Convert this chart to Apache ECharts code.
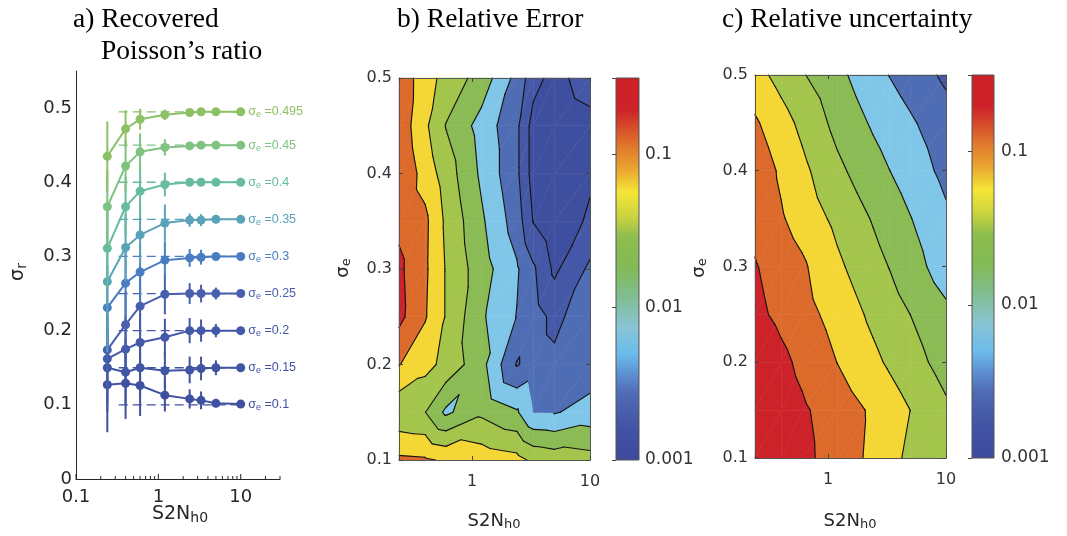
<!DOCTYPE html>
<html><head><meta charset="utf-8">
<script src="https://cdn.jsdelivr.net/npm/echarts@6/dist/echarts.min.js"></script>
<style>html,body{margin:0;padding:0;background:#fff}#c{width:1067px;height:536px}</style>
</head><body><div id="c"></div>
<script>
// ---------------- data ----------------
const s2n = [0.24, 0.4, 0.6, 1.2, 2.4, 3.3, 5, 10];
const sigmaE = [0.1, 0.15, 0.2, 0.25, 0.3, 0.35, 0.4, 0.45, 0.495];
const sigmaELabels = ['0.1', '0.15', '0.2', '0.25', '0.3', '0.35', '0.4', '0.45', '0.495'];
const recovered = [
  [0.127, 0.129, 0.126, 0.113, 0.108, 0.106, 0.102, 0.101],
  [0.150, 0.144, 0.150, 0.146, 0.147, 0.149, 0.150, 0.150],
  [0.162, 0.175, 0.184, 0.191, 0.200, 0.200, 0.200, 0.200],
  [0.174, 0.208, 0.233, 0.249, 0.250, 0.250, 0.250, 0.250],
  [0.231, 0.264, 0.279, 0.295, 0.298, 0.299, 0.300, 0.300],
  [0.266, 0.312, 0.329, 0.345, 0.349, 0.349, 0.350, 0.350],
  [0.311, 0.367, 0.388, 0.397, 0.400, 0.400, 0.400, 0.400],
  [0.367, 0.422, 0.441, 0.447, 0.449, 0.450, 0.450, 0.450],
  [0.435, 0.472, 0.485, 0.491, 0.494, 0.495, 0.495, 0.495]
];
const recoveredErr = [
  [0.064, 0.048, 0.041, 0.022, 0.013, 0.012, 0.005, 0.002],
  [0.060, 0.045, 0.040, 0.025, 0.018, 0.016, 0.010, 0.002],
  [0.060, 0.045, 0.040, 0.025, 0.017, 0.015, 0.009, 0.002],
  [0.058, 0.045, 0.040, 0.027, 0.014, 0.012, 0.008, 0.002],
  [0.057, 0.045, 0.040, 0.025, 0.012, 0.010, 0.003, 0.002],
  [0.095, 0.045, 0.040, 0.025, 0.009, 0.008, 0.003, 0.002],
  [0.055, 0.040, 0.035, 0.016, 0.004, 0.003, 0.002, 0.001],
  [0.050, 0.035, 0.025, 0.011, 0.003, 0.002, 0.001, 0.001],
  [0.047, 0.025, 0.014, 0.007, 0.002, 0.002, 0.001, 0.001]
];
const seriesColors = ['#3f50a0', '#4154a4', '#4358a8', '#485fae', '#4a7cc2', '#59a2b8', '#66bc9c', '#7fc282', '#8dc166'];
const refLineStart = 0.33;
const xMajorTicksA = [0.1, 1, 10];
const xMinorTicksA = [0.2, 0.3, 0.4, 0.5, 0.6, 0.7, 0.8, 0.9, 2, 3, 4, 5, 6, 7, 8, 9, 20, 30];

// contour grids: rows = sigma_e (bottom to top), columns = s2n; values are log10
const contourSigmaE = [0.1, 0.15, 0.2, 0.25, 0.3, 0.35, 0.4, 0.45, 0.5];
const relErrorLog10 = [
  [-1.20, -1.22, -1.28, -1.35, -1.42, -1.55, -1.60, -1.65],
  [-1.70, -1.745, -2.05, -1.80, -1.97, -2.25, -2.27, -2.15],
  [-1.24, -1.418, -1.573, -1.915, -2.52, -2.40, -2.45, -2.40],
  [-0.93, -1.229, -1.515, -1.964, -2.26, -2.40, -2.56, -2.35],
  [-0.95, -1.208, -1.515, -1.89, -2.22, -2.46, -2.80, -2.45],
  [-1.05, -1.195, -1.544, -1.96, -2.37, -2.76, -2.95, -2.70],
  [-1.03, -1.35, -1.62, -2.044, -2.45, -2.85, -3.00, -2.80],
  [-1.083, -1.453, -1.76, -2.094, -2.45, -2.85, -2.95, -2.85],
  [-1.08, -1.385, -1.588, -1.85, -2.33, -2.65, -2.85, -2.60]
];
const relUncertLog10 = [
  [-0.70, -0.83, -0.933, -1.112, -1.304, -1.415, -1.559, -1.70],
  [-0.757, -0.873, -0.963, -1.121, -1.286, -1.38, -1.502, -1.706],
  [-0.793, -0.939, -1.054, -1.254, -1.444, -1.533, -1.65, -1.848],
  [-0.937, -1.06, -1.156, -1.344, -1.552, -1.639, -1.752, -1.941],
  [-0.983, -1.11, -1.209, -1.455, -1.665, -1.756, -1.893, -2.126],
  [-1.069, -1.226, -1.349, -1.561, -1.768, -1.865, -1.992, -2.206],
  [-1.095, -1.287, -1.438, -1.695, -1.906, -1.996, -2.115, -2.317],
  [-1.217, -1.402, -1.555, -1.824, -2.031, -2.113, -2.218, -2.398],
  [-1.408, -1.587, -1.727, -1.937, -2.154, -2.255, -2.363, -2.548]
];
const levelsLog10 = [-2.75, -2.5, -2.25, -2.0, -1.75, -1.5, -1.25, -1.0];
const bandColors = ['#3e4f9f', '#4558a7', '#4f6db4', '#80c6e8', '#8bbb54', '#a3c54b', '#f4d634', '#dc6b2b', '#cd2229'];

// colorbar
const cbMin = 0.001, cbMax = 0.316;
const cbStopLog10 = [-3.0, -2.78, -2.56, -2.45, -2.30, -2.13, -1.91, -1.73, -1.54, -1.41, -1.25, -1.10, -0.95, -0.71, -0.5];
const cbStopColors = ['#3e4a9c', '#4354a4', '#4f6cb4', '#5c8ccf', '#6cbcea', '#88c4d6', '#80bd8a', '#82ba54', '#8dbd4e', '#c9d33f', '#f4e635', '#eaa530', '#e0782c', '#cd2229', '#cc2127'];

// ---------------- helpers ----------------
const SANS = 'DejaVu Sans';
const LSANS = 'Liberation Sans';
function pow10Label(v) {
  const l = Math.log10(v), r = Math.round(l);
  if (Math.abs(l - r) > 1e-6) return '';
  return r >= 0 ? String(Math.pow(10, r)) : Math.pow(10, r).toFixed(-r);
}
function tenthLabel(v) {
  const t = v * 10;
  if (Math.abs(t - Math.round(t)) > 1e-6) return '';
  return String(Math.round(t) / 10);
}
function clipPoly(pts, t, keepAbove) {
  const out = [];
  for (let i = 0; i < pts.length; i++) {
    const P = pts[i], Q = pts[(i + 1) % pts.length];
    const inP = keepAbove ? P.v >= t : P.v <= t;
    const inQ = keepAbove ? Q.v >= t : Q.v <= t;
    if (inP) out.push(P);
    if (inP !== inQ) {
      const s = (t - P.v) / (Q.v - P.v);
      out.push({u: P.u + s * (Q.u - P.u), y: P.y + s * (Q.y - P.y), v: t});
    }
  }
  return out;
}
function contourRenderer(field) {
  return function (params, api) {
    const U = s2n.map(Math.log10);
    const px = (p) => api.coord([Math.pow(10, p.u), p.y]);
    const polys = [], lines = [];
    for (let j = 0; j < contourSigmaE.length - 1; j++) {
      for (let i = 0; i < s2n.length - 1; i++) {
        const A = {u: U[i], y: contourSigmaE[j], v: field[j][i]};
        const B = {u: U[i + 1], y: contourSigmaE[j], v: field[j][i + 1]};
        const C = {u: U[i + 1], y: contourSigmaE[j + 1], v: field[j + 1][i + 1]};
        const D = {u: U[i], y: contourSigmaE[j + 1], v: field[j + 1][i]};
        [[A, B, C], [A, C, D]].forEach(tri => {
          for (let k = 0; k <= levelsLog10.length; k++) {
            let poly = tri;
            if (k > 0) poly = clipPoly(poly, levelsLog10[k - 1], true);
            if (poly.length >= 3 && k < levelsLog10.length) poly = clipPoly(poly, levelsLog10[k], false);
            if (poly.length >= 3) {
              polys.push({type: 'polygon', shape: {points: poly.map(px)},
                style: {fill: bandColors[k], stroke: bandColors[k], lineWidth: 0.5}});
            }
          }
          levelsLog10.forEach(L => {
            const pts = [];
            for (let e = 0; e < 3; e++) {
              const P = tri[e], Q = tri[(e + 1) % 3];
              if ((P.v - L) * (Q.v - L) < 0) {
                const s = (L - P.v) / (Q.v - P.v);
                pts.push({u: P.u + s * (Q.u - P.u), y: P.y + s * (Q.y - P.y)});
              }
            }
            if (pts.length === 2) {
              const a = px(pts[0]), b = px(pts[1]);
              lines.push({type: 'line', shape: {x1: a[0], y1: a[1], x2: b[0], y2: b[1]},
                style: {stroke: '#141414', lineWidth: 1.15, lineCap: 'round'}});
            }
          });
        });
      }
    }
    return {type: 'group', children: polys.concat(lines)};
  };
}
function colorbarRenderer(params, api) {
  const p0 = api.coord([0, cbMin]), p1 = api.coord([1, cbMax]);
  const span = Math.log10(cbMax) - Math.log10(cbMin);
  const stops = cbStopLog10.map((l, i) => ({offset: Math.min(1, Math.max(0, (l - Math.log10(cbMin)) / span)), color: cbStopColors[i]}));
  return {type: 'rect', shape: {x: p0[0], y: p1[1], width: p1[0] - p0[0], height: p0[1] - p1[1]},
    style: {fill: new echarts.graphic.LinearGradient(0, 1, 0, 0, stops), stroke: '#555', lineWidth: 1}};
}

// ---------------- axes ----------------
const boxLine = {show: true, onZero: false, lineStyle: {color: '#555', width: 1}};
const inTick = {show: true, inside: true, length: 4, lineStyle: {color: '#444'}};
const lblBC = {fontFamily: SANS, fontSize: 16, color: '#333'};

const xAxis = [
  {gridIndex: 0, type: 'log', logBase: 10, min: 0.1, max: 30, axisLine: {show: true, onZero: false, lineStyle: {color: '#262626'}},
   axisTick: {show: false}, splitLine: {show: false}, minorTick: {show: false},
   axisLabel: {fontFamily: SANS, fontSize: 18, color: '#262626', margin: 9, formatter: pow10Label, showMinLabel: true, showMaxLabel: true}},
  {gridIndex: 1, type: 'log', min: 0.24, max: 10, position: 'bottom', z: 5, axisLine: boxLine, axisTick: inTick, splitLine: {show: false},
   axisLabel: Object.assign({margin: 14, formatter: pow10Label}, lblBC)},
  {gridIndex: 1, type: 'log', min: 0.24, max: 10, position: 'top', z: 5, axisLine: boxLine, axisTick: inTick, splitLine: {show: false}, axisLabel: {show: false}},
  {gridIndex: 2, type: 'value', min: 0, max: 1, show: false},
  {gridIndex: 3, type: 'log', min: 0.24, max: 10, position: 'bottom', z: 5, axisLine: boxLine, axisTick: inTick, splitLine: {show: false},
   axisLabel: Object.assign({margin: 14, formatter: pow10Label}, lblBC)},
  {gridIndex: 3, type: 'log', min: 0.24, max: 10, position: 'top', z: 5, axisLine: boxLine, axisTick: inTick, splitLine: {show: false}, axisLabel: {show: false}},
  {gridIndex: 4, type: 'value', min: 0, max: 1, show: false}
];
const yAxis = [
  {gridIndex: 0, type: 'value', min: 0, max: 0.55, interval: 0.1, axisLine: {show: true, lineStyle: {color: '#262626'}},
   axisTick: {show: false}, splitLine: {show: false},
   axisLabel: {fontFamily: SANS, fontSize: 18, color: '#262626', margin: 4, formatter: tenthLabel}},
  {gridIndex: 1, type: 'value', min: 0.1, max: 0.5, interval: 0.1, position: 'left', z: 5, axisLine: boxLine, axisTick: inTick, splitLine: {show: false},
   axisLabel: Object.assign({margin: 7, formatter: tenthLabel}, lblBC)},
  {gridIndex: 1, type: 'value', min: 0.1, max: 0.5, interval: 0.1, position: 'right', z: 5, axisLine: boxLine, axisTick: inTick, splitLine: {show: false}, axisLabel: {show: false}},
  {gridIndex: 2, type: 'log', min: cbMin, max: cbMax, position: 'right', z: 5, axisLine: {show: false},
   axisTick: {show: true, inside: true, length: 4, lineStyle: {color: '#444'}}, splitLine: {show: false},
   axisLabel: {fontFamily: SANS, fontSize: 17, color: '#333', margin: 6, formatter: pow10Label}},
  {gridIndex: 3, type: 'value', min: 0.1, max: 0.5, interval: 0.1, position: 'left', z: 5, axisLine: boxLine, axisTick: inTick, splitLine: {show: false},
   axisLabel: Object.assign({margin: 7, formatter: tenthLabel}, lblBC)},
  {gridIndex: 3, type: 'value', min: 0.1, max: 0.5, interval: 0.1, position: 'right', z: 5, axisLine: boxLine, axisTick: inTick, splitLine: {show: false}, axisLabel: {show: false}},
  {gridIndex: 4, type: 'log', min: cbMin, max: cbMax, position: 'right', z: 5, axisLine: {show: false},
   axisTick: {show: true, inside: true, length: 4, lineStyle: {color: '#444'}}, splitLine: {show: false},
   axisLabel: {fontFamily: SANS, fontSize: 17, color: '#333', margin: 7, formatter: pow10Label}}
];

// ---------------- series ----------------
const series = [];
sigmaE.forEach((se, i) => {
  series.push({type: 'line', xAxisIndex: 0, yAxisIndex: 0, silent: true, z: 1, symbol: 'none',
    data: [[refLineStart, se], [s2n[s2n.length - 1], se]],
    lineStyle: {color: seriesColors[i], width: 1.3, type: [9, 5]}});
});
sigmaE.forEach((se, i) => {
  const col = seriesColors[i];
  series.push({type: 'custom', xAxisIndex: 0, yAxisIndex: 0, silent: true, z: 3 + i * 2, clip: false,
    data: s2n.map((x, k) => [x, recovered[i][k], recoveredErr[i][k]]),
    renderItem: (params, api) => {
      const a = api.coord([api.value(0), api.value(1) - api.value(2)]);
      const b = api.coord([api.value(0), api.value(1) + api.value(2)]);
      return {type: 'line', shape: {x1: a[0], y1: a[1], x2: b[0], y2: b[1]}, style: {stroke: col, lineWidth: 2}};
    }});
  series.push({type: 'line', xAxisIndex: 0, yAxisIndex: 0, silent: true, z: 4 + i * 2,
    symbol: 'circle', symbolSize: 9, lineStyle: {color: col, width: 2}, itemStyle: {color: col},
    data: s2n.map((x, k) => k === s2n.length - 1 ? {value: [x, recovered[i][k]], label: {show: true}} : [x, recovered[i][k]]),
    label: {show: false, position: 'right', distance: 3, color: col,
      formatter: '{s|σ}{e|e}{t| =' + sigmaELabels[i] + '}',
      rich: {s: {fontFamily: LSANS, fontSize: 12.5, color: col},
             e: {fontFamily: LSANS, fontSize: 9, color: col, padding: [6, 0, 0, 0]},
             t: {fontFamily: LSANS, fontSize: 12.5, color: col}}}});
});
// panel a x ticks
series.push({type: 'custom', xAxisIndex: 0, yAxisIndex: 0, silent: true, z: 20, clip: false,
  data: xMajorTicksA.map(v => [v, 0, 5]).concat(xMinorTicksA.map(v => [v, 0, 3])),
  renderItem: (params, api) => {
    const p = api.coord([api.value(0), api.value(1)]);
    return {type: 'line', shape: {x1: p[0], y1: p[1], x2: p[0], y2: p[1] - api.value(2)}, style: {stroke: '#262626', lineWidth: 1}};
  }});
// contours
series.push({type: 'custom', xAxisIndex: 1, yAxisIndex: 1, silent: true, z: 2, clip: false, data: [[1, 0.3]], renderItem: contourRenderer(relErrorLog10)});
series.push({type: 'custom', xAxisIndex: 3, yAxisIndex: 3, silent: true, z: 2, clip: false, data: [[0.5, 0.01]], renderItem: colorbarRenderer});
series.push({type: 'custom', xAxisIndex: 4, yAxisIndex: 4, silent: true, z: 2, clip: false, data: [[1, 0.3]], renderItem: contourRenderer(relUncertLog10)});
series.push({type: 'custom', xAxisIndex: 6, yAxisIndex: 6, silent: true, z: 2, clip: false, data: [[0.5, 0.01]], renderItem: colorbarRenderer});

// ---------------- texts ----------------
function title(txt, x, y) {
  return {type: 'text', x: x, y: y, silent: true,
    style: {text: txt, fontFamily: 'Liberation Serif', fontSize: 27.5, fill: '#000', align: 'left', verticalAlign: 'middle'}};
}
function axName(main, sub, x, y, rot, size) {
  return {type: 'text', x: x, y: y, rotation: rot, silent: true,
    style: {text: '{m|' + main + '}{s|' + sub + '}', align: 'center', verticalAlign: 'middle',
      rich: {m: {fontFamily: SANS, fontSize: size, fill: '#262626'},
             s: {fontFamily: SANS, fontSize: Math.round(size * 0.72), fill: '#262626', padding: [Math.round(size * 0.45), 0, 0, 0]}}}};
}
const graphic = [
  title('a) Recovered', 73, 20),
  title('Poisson’s ratio', 101, 52),
  title('b) Relative Error', 397, 20),
  title('c) Relative uncertainty', 722, 20),
  axName('σ', 'r', 18, 272, Math.PI / 2, 19),
  axName('S2N', 'h0', 180, 514, 0, 19),
  axName('σ', 'e', 343, 268, Math.PI / 2, 18),
  axName('S2N', 'h0', 494, 521, 0, 18),
  axName('σ', 'e', 699, 268, Math.PI / 2, 18),
  axName('S2N', 'h0', 850, 521, 0, 18)
];

const chart = echarts.init(document.getElementById('c'), null, {renderer: 'canvas'});
chart.setOption({
  animation: false,
  backgroundColor: '#fff',
  grid: [
    {left: 76, top: 71, width: 204, height: 408},
    {left: 399, top: 78, width: 191, height: 382},
    {left: 616, top: 78, width: 23, height: 382},
    {left: 755, top: 75, width: 191, height: 383},
    {left: 972, top: 75, width: 22, height: 383}
  ],
  xAxis: xAxis,
  yAxis: yAxis,
  series: series,
  graphic: graphic
});
</script></body></html>
